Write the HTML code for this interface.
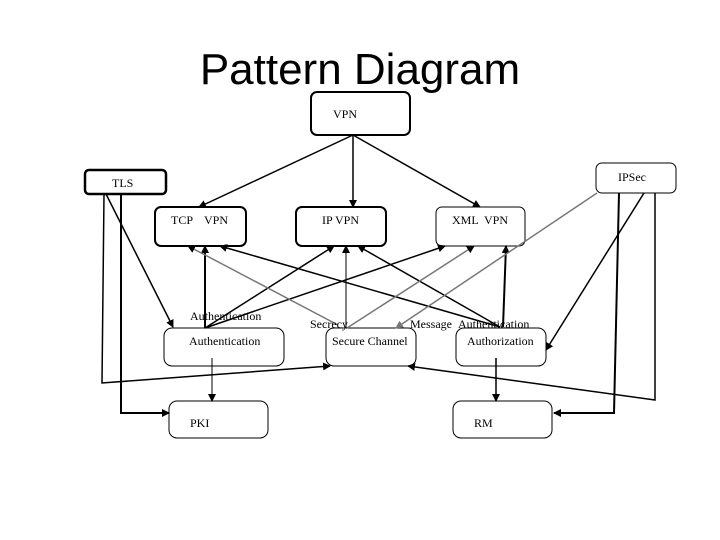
<!DOCTYPE html>
<html><head><style>
html,body{margin:0;padding:0;background:#fff;width:720px;height:540px;overflow:hidden}
svg{display:block}
text{font-family:"Liberation Serif",serif;font-size:12px;fill:#000}
</style></head><body>
<svg width="720" height="540" viewBox="0 0 720 540">
<defs>
<marker id="a" markerWidth="8" markerHeight="8" refX="7" refY="4" orient="auto" markerUnits="userSpaceOnUse"><path d="M0,0 L8,4 L0,8 Z" fill="#000"/></marker>
<marker id="g" markerWidth="8" markerHeight="8" refX="7" refY="4" orient="auto" markerUnits="userSpaceOnUse"><path d="M0,0 L8,4 L0,8 Z" fill="#777"/></marker>
</defs>
<text x="360" y="84" text-anchor="middle" style="font-family:'Liberation Sans',sans-serif;font-size:44px">Pattern Diagram</text>
<g fill="#fff" stroke="#000">
<rect x="311" y="92" width="99" height="43" rx="6" stroke-width="2"/>
<rect x="85" y="170" width="81" height="24" rx="4" stroke-width="2.5"/>
<rect x="596" y="163" width="80" height="30" rx="6" stroke-width="1"/>
<rect x="155" y="207" width="91" height="39" rx="6" stroke-width="2"/>
<rect x="296" y="207" width="90" height="39" rx="6" stroke-width="2"/>
<rect x="436" y="207" width="89" height="39" rx="6" stroke-width="1"/>
<rect x="164" y="328" width="120" height="38" rx="8" stroke-width="1"/>
<rect x="326" y="328" width="90" height="38" rx="8" stroke-width="1"/>
<rect x="456" y="328" width="90" height="38" rx="8" stroke-width="1"/>
<rect x="169" y="401" width="99" height="37" rx="8" stroke-width="1"/>
<rect x="453" y="401" width="99" height="37" rx="8" stroke-width="1"/>
</g>
<g stroke="#000" stroke-width="1.5" fill="none">
<line x1="353" y1="135" x2="199" y2="207" marker-end="url(#a)"/>
<line x1="353" y1="135" x2="353" y2="207" marker-end="url(#a)"/>
<line x1="353" y1="135" x2="480" y2="207" marker-end="url(#a)"/>
<polyline points="104,194 102,383 330,366" marker-end="url(#a)"/>
<polyline points="121,194 121,413 169,413" stroke-width="2" marker-end="url(#a)"/>
<line x1="106" y1="194" x2="173" y2="327" marker-end="url(#a)"/>
<polyline points="655,193 655,400 408,366" marker-end="url(#a)"/>
<polyline points="619,193 614,413 554,413" stroke-width="2" marker-end="url(#a)"/>
<line x1="644" y1="193" x2="546" y2="350" marker-end="url(#a)"/>
<line x1="212" y1="358" x2="212" y2="401" stroke-width="1" marker-end="url(#a)"/>
<line x1="496" y1="358" x2="496" y2="401" marker-end="url(#a)"/>
<line x1="205" y1="328" x2="205" y2="246" stroke-width="2" marker-end="url(#a)"/>
<line x1="205" y1="328" x2="334" y2="246" marker-end="url(#a)"/>
<line x1="205" y1="328" x2="445" y2="246" marker-end="url(#a)"/>
<line x1="346" y1="328" x2="346" y2="246" stroke-width="1" marker-end="url(#a)"/>
<line x1="503" y1="327" x2="506" y2="246" stroke-width="2" marker-end="url(#a)"/>
<line x1="500" y1="327" x2="220" y2="246" marker-end="url(#a)"/>
<line x1="500" y1="327" x2="358" y2="246" marker-end="url(#a)"/>
</g>
<g stroke="#777" stroke-width="1.5" fill="none">
<line x1="338" y1="325" x2="188" y2="246" marker-end="url(#a)"/>
<line x1="347" y1="328" x2="474" y2="246" marker-end="url(#a)"/>
<line x1="597" y1="193" x2="396" y2="328" marker-end="url(#g)"/>
</g>
<text x="333" y="118">VPN</text>
<text x="112" y="187">TLS</text>
<text x="618" y="181">IPSec</text>
<text x="171" y="224">TCP</text><text x="204" y="224">VPN</text>
<text x="322" y="224">IP VPN</text>
<text x="452" y="224">XML</text><text x="484" y="224">VPN</text>
<text x="190" y="320">Authentication</text>
<text x="310" y="328">Secrecy</text>
<text x="410" y="328">Message</text><text x="458" y="328">Authentication</text>
<text x="189" y="345">Authentication</text>
<text x="332" y="345">Secure Channel</text>
<text x="467" y="345">Authorization</text>
<text x="190" y="427">PKI</text>
<text x="474" y="427">RM</text>
</svg>
</body></html>
